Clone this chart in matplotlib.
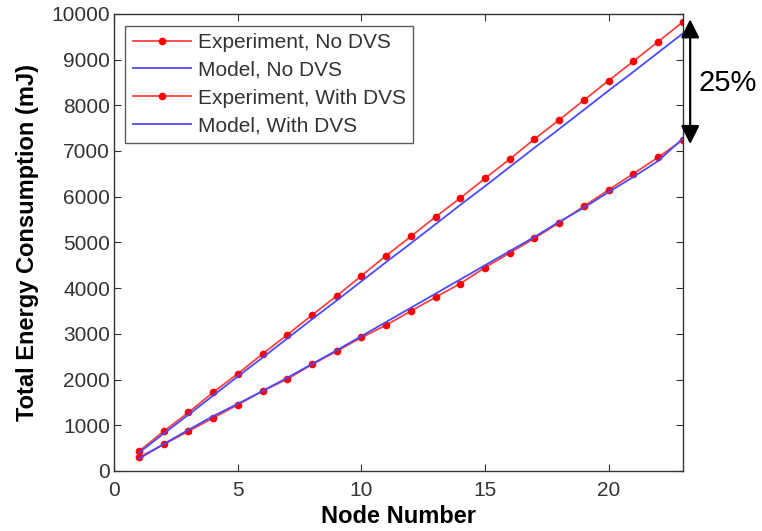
import matplotlib.pyplot as plt
import numpy as np

plt.rcParams['font.family'] = ['Liberation Sans', 'DejaVu Sans']

# node numbers
nodes = list(range(1, 24))

# energy in mJ
exp_no_dvs = [430, 870, 1280, 1720, 2130, 2560, 2980, 3410, 3830, 4270, 4710, 5130,
              5560, 5970, 6400, 6820, 7260, 7680, 8110, 8540, 8960, 9390, 9820]
model_no_dvs = [400, 820, 1230, 1650, 2070, 2480, 2900, 3320, 3730, 4150, 4570, 4980,
                5400, 5820, 6230, 6650, 7070, 7480, 7900, 8320, 8730, 9150, 9570]
exp_dvs = [300, 580, 870, 1160, 1450, 1750, 2010, 2330, 2620, 2920, 3190, 3500,
           3800, 4100, 4450, 4770, 5090, 5430, 5790, 6150, 6500, 6860, 7240]
model_dvs = [270, 590, 900, 1200, 1470, 1750, 2040, 2340, 2640, 2950, 3260, 3570,
             3880, 4190, 4500, 4810, 5120, 5450, 5760, 6100, 6430, 6780, 7270]

red = '#ff4040'
blue = '#4a4aff'

fig = plt.figure(figsize=(7.62, 5.31), dpi=100)
ax = fig.add_axes([0.150, 0.113, 0.746, 0.861])

ax.plot(nodes, exp_no_dvs, color=red, lw=1.3, marker='o', ms=4.5,
        mfc='red', mec='red', label='Experiment, No DVS')
ax.plot(nodes, model_no_dvs, color=blue, lw=1.3, label='Model, No DVS')
ax.plot(nodes, exp_dvs, color=red, lw=1.3, marker='o', ms=4.5,
        mfc='red', mec='red', label='Experiment, With DVS')
ax.plot(nodes, model_dvs, color=blue, lw=1.3, label='Model, With DVS')

ax.set_xlim(0, 23)
ax.set_ylim(0, 10000)
ax.set_xticks([0, 5, 10, 15, 20])
ax.set_yticks(np.arange(0, 10001, 1000))
ax.tick_params(direction='in', length=5, labelsize=15, colors='#333333', pad=3,
               top=True, right=True, labeltop=False, labelright=False)
ax.tick_params(axis='x', pad=7)
for s in ax.spines.values():
    s.set_color('#333333')
    s.set_linewidth(1.0)

ax.set_xlabel('Node Number', fontsize=17, fontweight='bold', labelpad=4)
ax.set_ylabel('Total Energy Consumption (mJ)', fontsize=17, fontweight='bold', labelpad=9)

leg = ax.legend(loc='upper left', bbox_to_anchor=(0.012, 0.983), fontsize=15,
                frameon=True, fancybox=False, handlelength=2.8, borderpad=0.35,
                labelspacing=0.42, handletextpad=0.35, borderaxespad=0.2)
leg.get_frame().set_edgecolor('#333333')
leg.get_frame().set_linewidth(1.0)
for t in leg.get_texts():
    t.set_color('#333333')

# 25% arrow between the two experiment end points
ax.annotate('', xy=(23.3, exp_no_dvs[-1] + 60), xytext=(23.3, exp_dvs[-1] - 90),
            arrowprops=dict(arrowstyle='<|-|>', color='black', lw=1.6,
                            mutation_scale=28, shrinkA=0, shrinkB=0),
            annotation_clip=False)
ax.text(23.65, 8480, '25%', fontsize=21, ha='left', va='center', clip_on=False)

fig.savefig('out.png', dpi=100)
